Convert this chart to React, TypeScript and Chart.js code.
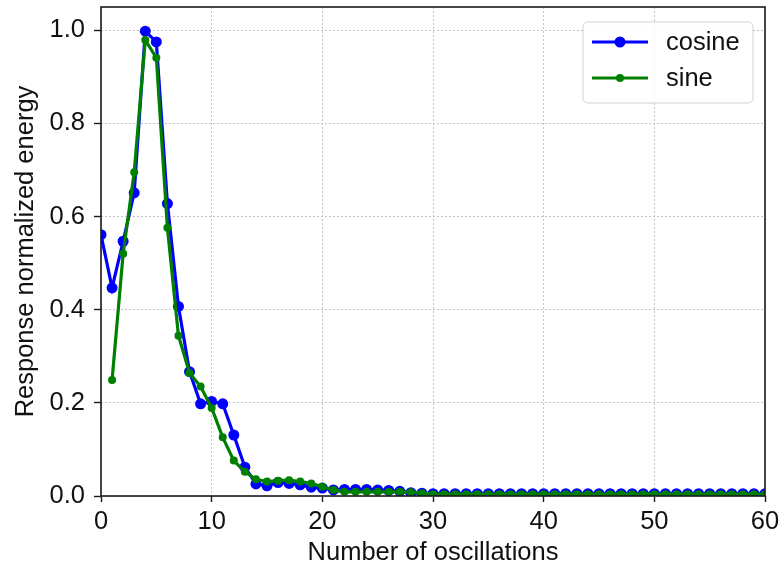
import React, { useEffect, useRef } from "react";
import { Chart, registerables } from "chart.js";

Chart.register(...registerables);

// Number of oscillations for each series
const cosineX = [
  0, 1, 2, 3, 4, 5, 6, 7, 8, 9, 10, 11, 12, 13, 14, 15, 16, 17, 18, 19, 20,
  21, 22, 23, 24, 25, 26, 27, 28, 29, 30, 31, 32, 33, 34, 35, 36, 37, 38, 39, 40,
  41, 42, 43, 44, 45, 46, 47, 48, 49, 50, 51, 52, 53, 54, 55, 56, 57, 58, 59, 60,
];
const cosineY = [
  0.561, 0.447, 0.547, 0.651, 0.998, 0.975, 0.628, 0.407, 0.267, 0.198, 0.203,
  0.198, 0.131, 0.062, 0.026, 0.022, 0.029, 0.027, 0.024, 0.019, 0.017,
  0.013, 0.014, 0.014, 0.014, 0.013, 0.012, 0.010, 0.007, 0.006, 0.005,
  0.005, 0.005, 0.005, 0.005, 0.005, 0.005, 0.005, 0.005, 0.005, 0.005,
  0.005, 0.005, 0.005, 0.005, 0.005, 0.005, 0.005, 0.005, 0.005, 0.005,
  0.005, 0.005, 0.005, 0.005, 0.005, 0.005, 0.005, 0.005, 0.005, 0.005,
];
const sineX = [
  1, 2, 3, 4, 5, 6, 7, 8, 9, 10, 11, 12, 13, 14, 15, 16, 17, 18, 19, 20,
  21, 22, 23, 24, 25, 26, 27, 28, 29, 30, 31, 32, 33, 34, 35, 36, 37, 38, 39, 40,
  41, 42, 43, 44, 45, 46, 47, 48, 49, 50, 51, 52, 53, 54, 55, 56, 57, 58, 59, 60,
];
const sineY = [
  0.249, 0.520, 0.695, 0.979, 0.941, 0.576, 0.344, 0.264, 0.235, 0.189,
  0.126, 0.076, 0.052, 0.036, 0.031, 0.033, 0.034, 0.031, 0.027, 0.020,
  0.013, 0.009, 0.009, 0.009, 0.009, 0.009, 0.009, 0.008, 0.006, 0.004,
  0.004, 0.004, 0.004, 0.004, 0.004, 0.004, 0.004, 0.004, 0.004, 0.004,
  0.004, 0.004, 0.004, 0.004, 0.004, 0.004, 0.004, 0.004, 0.004, 0.004,
  0.004, 0.004, 0.004, 0.004, 0.004, 0.004, 0.004, 0.004, 0.004, 0.004,
];
const xTicks = [0, 10, 20, 30, 40, 50, 60];
const yTicks = [0, 0.2, 0.4, 0.6, 0.8, 1.0];
const seriesNames = ["cosine", "sine"];
const seriesColors = ["#0000ff", "#008000"];

const FONT = "'Liberation Sans', Arial, sans-serif";
const FS = 25.5;

const framePlugin = {
  id: "frameAndLegend",
  afterDraw(chart: any) {
    const { ctx, chartArea: a } = chart;
    ctx.save();
    ctx.strokeStyle = "#1a1a1a";
    ctx.lineWidth = 1.6;
    ctx.setLineDash([]);
    ctx.strokeRect(a.left, a.top, a.right - a.left, a.bottom - a.top);

    // legend
    const w = 170, h = 81;
    const lx = a.right - 12 - w;
    const ly = a.top + 15;
    const r = 5;
    ctx.beginPath();
    ctx.moveTo(lx + r, ly);
    ctx.lineTo(lx + w - r, ly);
    ctx.arcTo(lx + w, ly, lx + w, ly + r, r);
    ctx.lineTo(lx + w, ly + h - r);
    ctx.arcTo(lx + w, ly + h, lx + w - r, ly + h, r);
    ctx.lineTo(lx + r, ly + h);
    ctx.arcTo(lx, ly + h, lx, ly + h - r, r);
    ctx.lineTo(lx, ly + r);
    ctx.arcTo(lx, ly, lx + r, ly, r);
    ctx.closePath();
    ctx.fillStyle = "rgba(255,255,255,0.85)";
    ctx.fill();
    ctx.strokeStyle = "#d0d0d0";
    ctx.lineWidth = 1;
    ctx.stroke();

    const radii = [5.5, 4];
    seriesNames.forEach((name, i) => {
      const cy = ly + 20 + i * 36;
      ctx.strokeStyle = seriesColors[i];
      ctx.lineWidth = 3;
      ctx.beginPath();
      ctx.moveTo(lx + 9, cy);
      ctx.lineTo(lx + 65, cy);
      ctx.stroke();
      ctx.fillStyle = seriesColors[i];
      ctx.beginPath();
      ctx.arc(lx + 37, cy, radii[i], 0, Math.PI * 2);
      ctx.fill();
      ctx.fillStyle = "#111";
      ctx.font = `${FS}px ${FONT}`;
      ctx.textAlign = "left";
      ctx.textBaseline = "middle";
      ctx.fillText(name, lx + 83, cy + 1);
    });
    ctx.restore();
  },
};

export default function App() {
  const ref = useRef<HTMLCanvasElement>(null);
  useEffect(() => {
    if (!ref.current) return;
    const chart = new Chart(ref.current, {
      type: "line",
      data: {
        datasets: [
          {
            label: seriesNames[0],
            data: cosineX.map((x, i) => ({ x, y: cosineY[i] })),
            borderColor: seriesColors[0],
            backgroundColor: seriesColors[0],
            borderWidth: 3.2,
            pointRadius: 5.5,
            pointBorderWidth: 0,
            pointHoverRadius: 5.5,
            tension: 0,
            clip: 0,
            order: 1,
          },
          {
            label: seriesNames[1],
            data: sineX.map((x, i) => ({ x, y: sineY[i] })),
            borderColor: seriesColors[1],
            backgroundColor: seriesColors[1],
            borderWidth: 3.2,
            pointRadius: 4,
            pointBorderWidth: 0,
            pointHoverRadius: 4,
            tension: 0,
            clip: 0,
            order: 0,
          },
        ],
      },
      options: {
        responsive: false,
        animation: false,
        layout: { padding: { top: 7, right: 17, left: 0, bottom: 0 } },
        plugins: {
          legend: { display: false },
          tooltip: { enabled: false },
        },
        scales: {
          x: {
            type: "linear",
            min: 0,
            max: 60,
            afterBuildTicks: (s: any) => {
              s.ticks = xTicks.map((v) => ({ value: v }));
            },
            afterFit: (s: any) => {
              s.height = 69;
              s.paddingLeft = 0;
              s.paddingRight = 0;
            },
            ticks: {
              color: "#111",
              font: { family: FONT, size: FS },
              padding: 5,
              maxRotation: 0,
              autoSkip: false,
              callback: (v: any) => String(v),
            },
            grid: {
              color: "#c4c4c4",
              lineWidth: 1,
              drawTicks: true,
              tickLength: 6,
              tickColor: "#1a1a1a",
              tickWidth: 1.4,
            },
            border: { display: false, dash: [2, 2] },
            title: {
              display: true,
              text: "Number of oscillations",
              color: "#111",
              font: { family: FONT, size: FS },
              padding: { top: 0, bottom: -3 },
            },
          },
          y: {
            type: "linear",
            min: 0,
            max: 1.05,
            afterBuildTicks: (s: any) => {
              s.ticks = yTicks.map((v) => ({ value: v }));
            },
            afterFit: (s: any) => {
              s.width = 101;
              s.paddingTop = 0;
              s.paddingBottom = 0;
            },
            ticks: {
              color: "#111",
              font: { family: FONT, size: FS },
              padding: 9,
              autoSkip: false,
              callback: (v: any) => Number(v).toFixed(1),
            },
            grid: {
              color: "#c4c4c4",
              lineWidth: 1,
              drawTicks: true,
              tickLength: 7,
              tickColor: "#1a1a1a",
              tickWidth: 1.4,
            },
            border: { display: false, dash: [2, 2] },
            title: {
              display: true,
              text: "Response normalized energy",
              color: "#111",
              font: { family: FONT, size: FS },
              padding: { top: 11, bottom: 0 },
            },
          },
        },
      },
      plugins: [framePlugin],
    });
    return () => chart.destroy();
  }, []);
  return (
    <div style={{ position: "fixed", left: 0, top: 0, width: 782, height: 565, background: "#fff" }}>
      <canvas ref={ref} width={782} height={565} />
    </div>
  );
}
